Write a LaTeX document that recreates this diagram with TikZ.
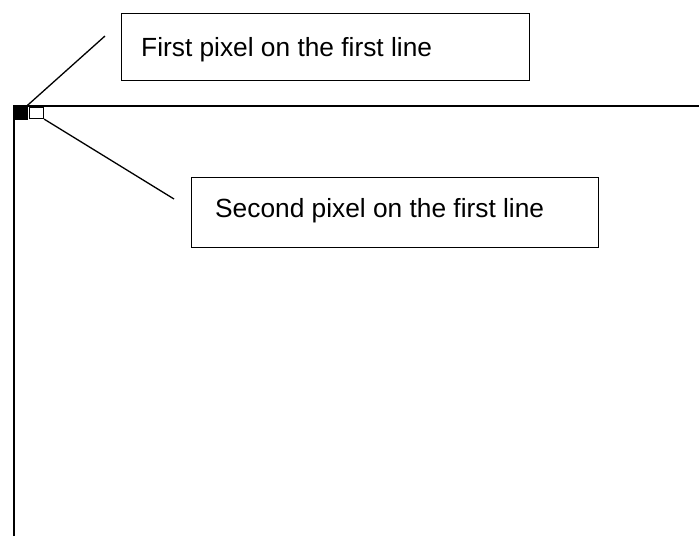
\documentclass[tikz,border=0pt]{standalone}
\usepackage{fontspec}
\setmainfont{Liberation Sans}
\begin{document}
\begin{tikzpicture}[x=1pt,y=-1pt,
  labelbox/.style={draw=black,line width=1.3pt,inner sep=0pt,anchor=north west,font=\fontsize{26.3}{30}\selectfont},
  frameline/.style={line width=2.2pt},
  leader/.style={line width=1.3pt}]
\useasboundingbox (0,0) rectangle (699,536);
% frame
\draw[frameline] (14,536) -- (14,106) -- (699,106);
% pixels
\node[fill=black,draw=black,line width=0.8pt,minimum width=13pt,minimum height=13pt,inner sep=0pt,anchor=north west] (p1) at (13.5,105.5) {};
\node[fill=white,draw=black,line width=1.1pt,minimum width=14pt,minimum height=11.5pt,inner sep=0pt,anchor=north west] (p2) at (29,106.5) {};
% label boxes
\node[labelbox,minimum width=408pt,minimum height=67pt] (b1) at (121,13) {};
\node[anchor=base west,font=\fontsize{26.3}{30}\selectfont,inner sep=0pt] (t1) at (141,56) {First pixel on the first line};
\node[labelbox,minimum width=407pt,minimum height=70pt] (b2) at (191,177) {};
\node[anchor=base west,font=\fontsize{26.3}{30}\selectfont,inner sep=0pt] (t2) at (215,217) {Second pixel on the first line};
% leaders
\coordinate (e1) at (105,36);
\coordinate (e2) at (174,199);
\draw[leader] (p1.north east) -- (e1);
\draw[leader] (p2.south east) -- (e2);
\end{tikzpicture}
\end{document}
